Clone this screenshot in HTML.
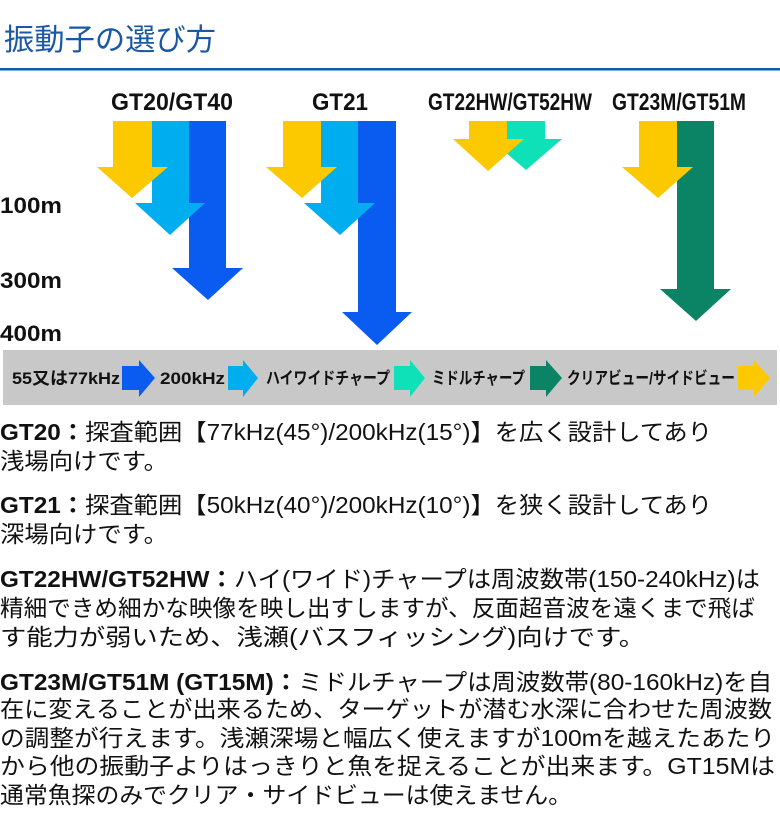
<!DOCTYPE html>
<html><head><meta charset="utf-8"><style>
html,body{margin:0;padding:0;background:#fff;}
svg{display:block;}
text{font-family:"Liberation Sans","Noto Sans CJK JP",sans-serif;}
</style></head><body>
<svg width="780" height="827" viewBox="0 0 780 827" xmlns="http://www.w3.org/2000/svg">
<text x="4" y="50" font-size="30" fill="#1a58a4" textLength="212" lengthAdjust="spacingAndGlyphs">振動子の選び方</text>
<rect x="0" y="68" width="780" height="2.5" fill="#0a5cb0"/>

<g font-weight="bold" font-size="24" fill="#111">
<text x="111" y="110" textLength="122" lengthAdjust="spacingAndGlyphs">GT20/GT40</text>
<text x="312" y="110" textLength="56" lengthAdjust="spacingAndGlyphs">GT21</text>
<text x="428" y="110" textLength="164" lengthAdjust="spacingAndGlyphs">GT22HW/GT52HW</text>
<text x="612" y="110" textLength="134" lengthAdjust="spacingAndGlyphs">GT23M/GT51M</text>
<text x="0" y="213" font-size="22" textLength="62" lengthAdjust="spacingAndGlyphs">100m</text>
<text x="0" y="288" font-size="22" textLength="62" lengthAdjust="spacingAndGlyphs">300m</text>
<text x="0" y="341" font-size="22" textLength="62" lengthAdjust="spacingAndGlyphs">400m</text>
</g>

<!-- GT20 -->
<polygon points="189,121 226,121 226,268 243,268 208,300 172,268 189,268" fill="#0a5cf0"/>
<polygon points="152,121 189,121 189,203 205,203 170,235 135,203 152,203" fill="#00aeef"/>
<polygon points="113,121 152,121 152,167 168,167 132,198 97,167 113,167" fill="#fcc800"/>
<!-- GT21 -->
<polygon points="358,121 396,121 396,312 412,312 377,345 342,312 358,312" fill="#0a5cf0"/>
<polygon points="321,121 358,121 358,203 375,203 340,235 304,203 321,203" fill="#00aeef"/>
<polygon points="283,121 321,121 321,167 337,167 302,198 266,167 283,167" fill="#fcc800"/>
<!-- GT22 -->
<polygon points="507,121 545,121 545,139 562,139 526,170 490,139 507,139" fill="#0ee0b8"/>
<polygon points="469,121 507,121 507,139 524,139 488,171 453,139 469,139" fill="#fcc800"/>
<!-- GT23 -->
<polygon points="677,121 714,121 714,289 731,289 696,321 660,289 677,289" fill="#0b8466"/>
<polygon points="639,121 677,121 677,167 693,167 658,198 622,167 639,167" fill="#fcc800"/>

<!-- legend bar -->
<rect x="3" y="350" width="774" height="55" fill="#c8c8c8"/>
<g font-weight="bold" font-size="17" fill="#111">
<text x="12" y="384" textLength="108" lengthAdjust="spacingAndGlyphs">55又は77kHz</text>
<text x="160" y="384" textLength="65" lengthAdjust="spacingAndGlyphs">200kHz</text>
<text x="266" y="384" textLength="124" lengthAdjust="spacingAndGlyphs">ハイワイドチャープ</text>
<text x="432" y="384" textLength="93" lengthAdjust="spacingAndGlyphs">ミドルチャープ</text>
<text x="567" y="384" textLength="168" lengthAdjust="spacingAndGlyphs">クリアビュー/サイドビュー</text>
</g>
<polygon points="122,366 139,366 139,360 155,378 139,397 139,390 122,390" fill="#0a5cf0"/>
<polygon points="228,366 243,366 243,360 258,378 243,397 243,390 228,390" fill="#00aeef"/>
<polygon points="394,366 410,366 410,360 425,378 410,397 410,390 394,390" fill="#0ee0b8"/>
<polygon points="530,366 546,366 546,360 562,378 546,397 546,390 530,390" fill="#0b8466"/>
<polygon points="738,366 754,366 754,360 770,378 754,397 754,390 738,390" fill="#fcc800"/>

<!-- body text -->
<g font-size="23" fill="#111">
<text x="0" y="440" textLength="712" lengthAdjust="spacingAndGlyphs"><tspan font-weight="bold">GT20：</tspan>探査範囲【77kHz(45°)/200kHz(15°)】を広く設計してあり</text>
<text x="0" y="469" textLength="168" lengthAdjust="spacingAndGlyphs">浅場向けです。</text>
<text x="0" y="513" textLength="712" lengthAdjust="spacingAndGlyphs"><tspan font-weight="bold">GT21：</tspan>探査範囲【50kHz(40°)/200kHz(10°)】を狭く設計してあり</text>
<text x="0" y="542" textLength="168" lengthAdjust="spacingAndGlyphs">深場向けです。</text>
<text x="0" y="587" textLength="760" lengthAdjust="spacingAndGlyphs"><tspan font-weight="bold">GT22HW/GT52HW：</tspan>ハイ(ワイド)チャープは周波数帯(150-240kHz)は</text>
<text x="0" y="616" textLength="755" lengthAdjust="spacingAndGlyphs">精細できめ細かな映像を映し出すしますが、反面超音波を遠くまで飛ば</text>
<text x="0" y="645" textLength="645" lengthAdjust="spacingAndGlyphs">す能力が弱いため、浅瀬(バスフィッシング)向けです。</text>
<text x="0" y="690" textLength="772" lengthAdjust="spacingAndGlyphs"><tspan font-weight="bold">GT23M/GT51M (GT15M)：</tspan>ミドルチャープは周波数帯(80-160kHz)を自</text>
<text x="0" y="717" textLength="772" lengthAdjust="spacingAndGlyphs">在に変えることが出来るため、ターゲットが潜む水深に合わせた周波数</text>
<text x="0" y="746" textLength="775" lengthAdjust="spacingAndGlyphs">の調整が行えます。浅瀬深場と幅広く使えますが100mを越えたあたり</text>
<text x="0" y="774" textLength="775" lengthAdjust="spacingAndGlyphs">から他の振動子よりはっきりと魚を捉えることが出来ます。GT15Mは</text>
<text x="0" y="803" textLength="572" lengthAdjust="spacingAndGlyphs">通常魚探のみでクリア・サイドビューは使えません。</text>
</g>
</svg>
</body></html>
